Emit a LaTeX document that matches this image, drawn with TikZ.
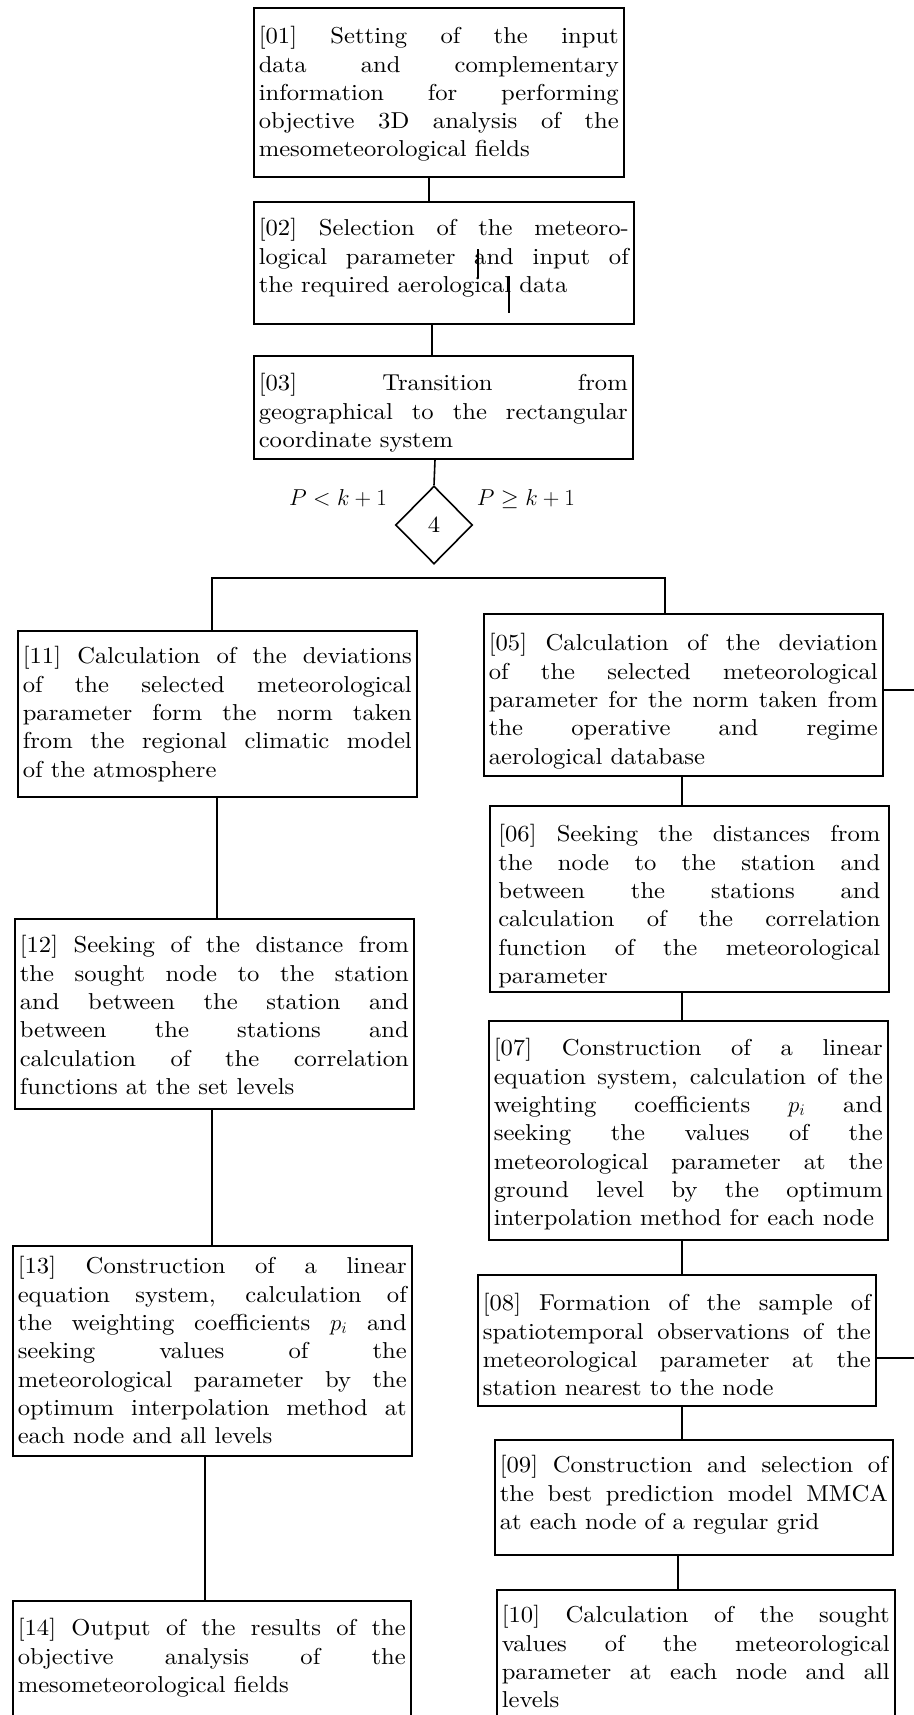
\RequirePackage{fix-cm}
\documentclass[tikz,border=0pt]{standalone}
\usepackage{fontspec}
\setmainfont{lmroman10-regular.otf}[FakeStretch=1.07]
\usetikzlibrary{shapes.geometric}

\begin{document}
\begin{tikzpicture}[x=1pt,y=-1pt,line width=1.6pt,line join=miter,font=\fontsize{23}{28.3}\selectfont,
	stage/.style={draw,anchor=north west,align=justify,inner xsep=5pt,inner ysep=0pt},
	decision/.style={draw,diamond,inner sep=0pt,minimum width=77pt,minimum height=78pt}]
	
	\useasboundingbox (0,0) rectangle (913,1715);
	
	% Upper chain
	\node[stage,text width=360pt,text height=36pt,text depth=133pt] (b01) at (253,7)
	{[01] Setting of the input\linebreak data and complementary\linebreak information for performing\linebreak objective 3D analysis of the\linebreak mesometeorological fields};
	\node[stage,text width=370pt,text height=34pt,text depth=88pt] (b02) at (253,201)
	{[02] Selection of the meteoro-\linebreak logical parameter and input of\linebreak the required aerological data};
	\node[stage,text width=369pt,text height=35pt,text depth=68pt] (b03) at (253,355)
	{[03] Transition from\linebreak geographical to the rectangular\linebreak coordinate system};
	
	% Decision
	\node[decision] (d4) at (434,525) {4};
	\node[anchor=base] (lbl1) at (338,505) {$P < k + 1$};
	\node[anchor=base] (lbl2) at (526,505) {$P \geq k + 1$};
	
	% Left branch
	\node[stage,text width=389pt,text height=33pt,text depth=133pt] (b11) at (17,630)
	{[11] Calculation of the deviations\linebreak of the selected meteorological\linebreak parameter form the norm taken\linebreak from the regional climatic model\linebreak of the atmosphere};
	\node[stage,text width=389pt,text height=34pt,text depth=156pt] (b12) at (14,918)
	{[12] Seeking of the distance from\linebreak the sought node to the station\linebreak and between the station and\linebreak between the stations and\linebreak calculation of the correlation\linebreak functions at the set levels};
	\node[stage,text width=389pt,text height=28pt,text depth=182pt] (b13) at (12,1245)
	{[13] Construction of a linear\linebreak equation system, calculation of\linebreak the weighting coefficients $p_i$ and\linebreak seeking values of the\linebreak meteorological parameter by the\linebreak optimum interpolation method at\linebreak each node and all levels};
	\node[stage,text width=388pt,text height=35pt,text depth=125pt] (b14) at (12,1600)
	{[14] Output of the results of the\linebreak objective analysis of the\linebreak mesometeorological fields};
	
	% Right branch
	\node[stage,text width=389pt,text height=37pt,text depth=125pt] (b05) at (483,613)
	{[05] Calculation of the deviation\linebreak of the selected meteorological\linebreak parameter for the norm taken from\linebreak the operative and regime\linebreak aerological database};
	\node[stage,text width=382pt,minimum width=399pt,text height=36pt,text depth=150pt] (b06) at (489,805)
	{[06] Seeking the distances from\linebreak the node to the station and\linebreak between the stations and\linebreak calculation of the correlation\linebreak function of the meteorological\linebreak parameter};
	\node[stage,text width=389pt,text height=35pt,text depth=184pt] (b07) at (488,1020)
	{[07] Construction of a linear\linebreak equation system, calculation of the\linebreak weighting coefficients $p_i$ and\linebreak seeking the values of the\linebreak meteorological parameter at the\linebreak ground level by the optimum\linebreak interpolation method for each node};
	\node[stage,text width=388pt,text height=36pt,text depth=95pt] (b08) at (477,1274)
	{[08] Formation of the sample of\linebreak spatiotemporal observations of the\linebreak meteorological parameter at the\linebreak station nearest to the node};
	\node[stage,text width=388pt,text height=33pt,text depth=82pt] (b09) at (494,1439)
	{[09] Construction and selection of\linebreak the best prediction model MMCA\linebreak at each node of a regular grid};
	\node[stage,text width=388pt,text height=33pt,text depth=127pt] (b10) at (496,1589)
	{[10] Calculation of the sought\linebreak values of the meteorological\linebreak parameter at each node and all\linebreak levels};
	
	% Links
	\draw (b01.south -| 429,0) -- (b02.north -| 429,0);
	\draw (b02.south -| 432,0) -- (b03.north -| 432,0);
	\draw (b03.south -| 435,0) -- (d4.north);
	
	\coordinate (fork) at (434,578);
	\draw (b11.north -| 212,0) |- (fork) -| (b05.north -| 665,0);
	
	\draw (b11.south -| 217,0) -- (b12.north -| 217,0);
	\draw (b12.south -| 212,0) -- (b13.north -| 212,0);
	\draw (b13.south -| 205,0) -- (b14.north -| 205,0);
	
	\draw (b05.south -| 682,0) -- (b06.north -| 682,0);
	\draw (b06.south -| 682,0) -- (b07.north -| 682,0);
	\draw (b07.south -| 682,0) -- (b08.north -| 682,0);
	\draw (b08.south -| 682,0) -- (b09.north -| 682,0);
	\draw (b09.south -| 678,0) -- (b10.north -| 678,0);
	
	% Outgoing stubs
	\coordinate (out5) at (930,690);
	\coordinate (out8) at (930,1358);
	\draw (out5 -| b05.east) -- (out5);
	\draw (out8 -| b08.east) -- (out8);
	
	% Stray ticks inside [02]
	\draw[line width=1.2pt] (478,249) -- (478,278);
	\draw[line width=1.2pt] (509,276) -- (509,313);
	
\end{tikzpicture}
\end{document}
